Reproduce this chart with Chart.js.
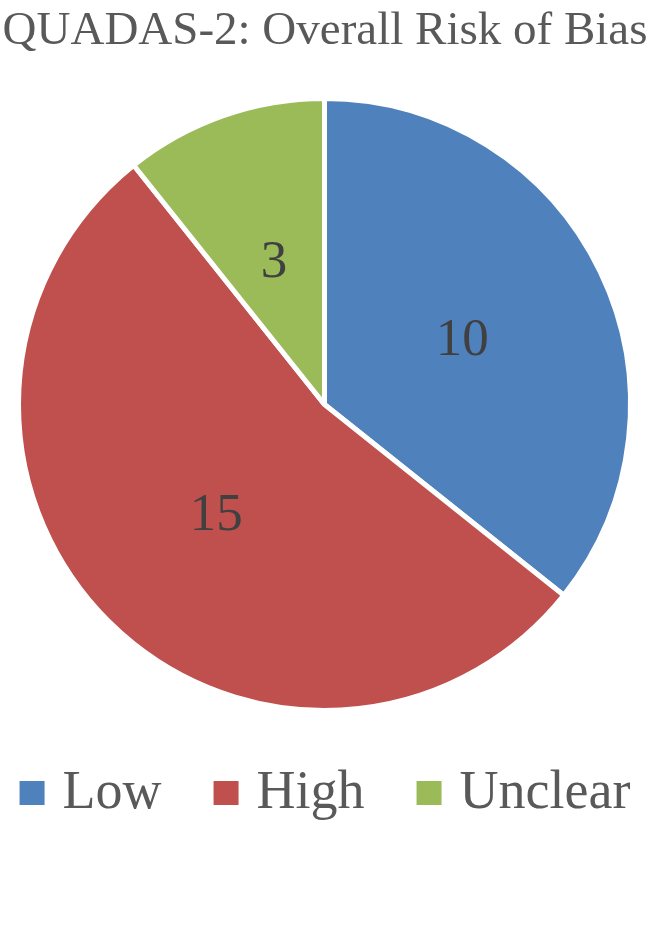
<!DOCTYPE html>
<html>
<head>
<meta charset="utf-8">
<script src="https://cdn.jsdelivr.net/npm/chart.js@4"></script>
<style>
html,body{margin:0;padding:0;background:#fff;}
#wrap{width:650px;height:950px;position:relative;}
</style>
</head>
<body>
<div id="wrap"><canvas id="c" width="650" height="950"></canvas></div>
<script>
const chartTitle = "QUADAS-2: Overall Risk of Bias";
const categories = ["Low", "High", "Unclear"];
const counts = [10, 15, 3];
const sliceColors = ["#4F81BD", "#C0504D", "#9BBB59"];

const FONT = "'Liberation Serif', 'Times New Roman', serif";

const customText = {
  id: 'customText',
  afterDatasetsDraw(chart) {
    const ctx = chart.ctx;
    const meta = chart.getDatasetMeta(0);
    ctx.save();
    // value labels at half radius
    ctx.fillStyle = '#404040';
    ctx.font = '53px ' + FONT;
    ctx.textAlign = 'center';
    ctx.textBaseline = 'middle';
    meta.data.forEach((arc, i) => {
      const p = arc.getProps(['x','y','startAngle','endAngle','outerRadius'], true);
      const mid = (p.startAngle + p.endAngle) / 2;
      const r = p.outerRadius * 0.5;
      ctx.fillText(String(chart.data.datasets[0].data[i]), p.x + Math.cos(mid) * r, p.y + Math.sin(mid) * r + 3);
    });
    // title
    ctx.fillStyle = '#595959';
    ctx.font = '47px ' + FONT;
    ctx.textBaseline = 'alphabetic';
    ctx.fillText(chartTitle, 325, 44);
    // legend
    ctx.font = '54px ' + FONT;
    ctx.textAlign = 'left';
    const box = 25, textOff = 43, pad = 52;
    const widths = chart.data.labels.map(l => ctx.measureText(l).width);
    let total = 0;
    widths.forEach(w => total += textOff + w);
    total += pad * (widths.length - 1);
    let x = (650 - total) / 2;
    chart.data.labels.forEach((l, i) => {
      ctx.fillStyle = chart.data.datasets[0].backgroundColor[i];
      ctx.fillRect(x, 781, box, 24);
      ctx.fillStyle = '#595959';
      ctx.fillText(l, x + textOff, 808);
      x += textOff + widths[i] + pad;
    });
    ctx.restore();
  }
};

new Chart(document.getElementById('c'), {
  type: 'pie',
  data: {
    labels: categories,
    datasets: [{
      data: counts,
      backgroundColor: sliceColors,
      borderColor: '#ffffff',
      borderWidth: 5
    }]
  },
  options: {
    responsive: false,
    animation: false,
    layout: { padding: { left: 16, right: 17, top: 96, bottom: 237 } },
    plugins: {
      legend: { display: false },
      title: { display: false },
      tooltip: { enabled: false }
    }
  },
  plugins: [customText]
});
</script>
</body>
</html>
